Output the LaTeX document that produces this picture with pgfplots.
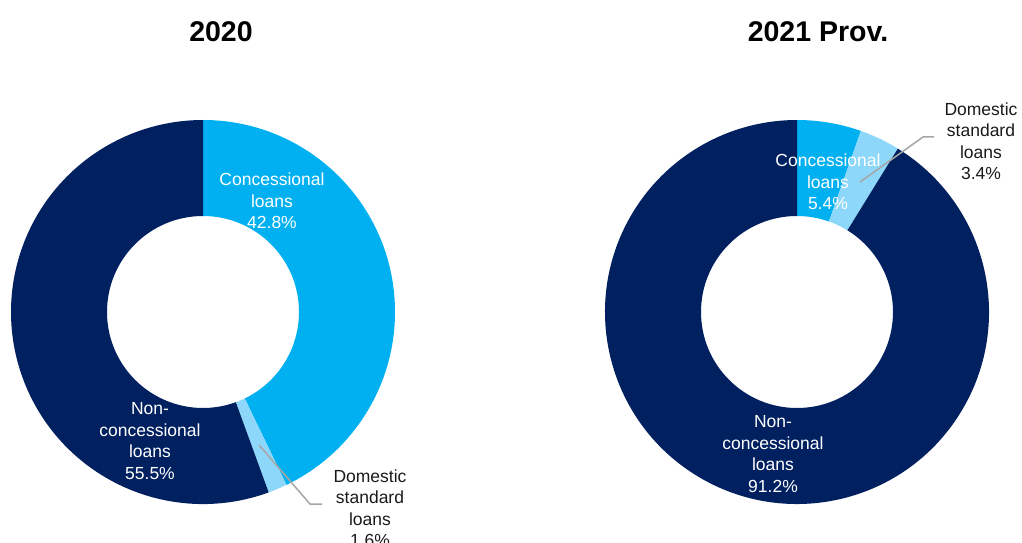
\documentclass[border=0pt]{standalone}
\usepackage{pgfplots}
\usepackage{pgfplotstable}
\pgfplotsset{compat=1.18}
\usepackage{fontspec}
\setmainfont{Liberation Sans}

\definecolor{slice0}{HTML}{00B0F0}% concessional
\definecolor{slice1}{HTML}{8DD8FA}% domestic standard
\definecolor{slice2}{HTML}{002060}% non-concessional
\definecolor{leader}{HTML}{A6A6A6}
\definecolor{labeltext}{HTML}{1A1A1A}

\tikzset{
  lbl/.style={align=center, font=\fontsize{17.5}{21.5}\selectfont, inner sep=0pt},
  ttl/.style={font=\fontsize{28.5}{34}\selectfont\bfseries, inner sep=0pt},
}

% shares of loans, in percent, clockwise from 12 o'clock
\pgfplotstableread{
share
42.8
1.6
55.5
}\sharesA
\pgfplotstableread{
share
5.4
3.4
91.2
}\sharesB

\def\Rout{192}
\def\Rin{96}

% \donut{table}{centre x}{centre y}
\newcommand{\donut}[3]{%
  \pgfplotstablegetrowsof{#1}%
  \pgfmathtruncatemacro\lastrow{\pgfplotsretval-1}%
  \gdef\sumshare{0}%
  \foreach \i in {0,...,\lastrow}{%
    \pgfplotstablegetelem{\i}{share}\of{#1}%
    \pgfmathsetmacro\tmpsum{\sumshare+\pgfplotsretval}%
    \xdef\sumshare{\tmpsum}%
  }%
  \gdef\angA{90}%
  \foreach \i in {0,...,\lastrow}{%
    \pgfplotstablegetelem{\i}{share}\of{#1}%
    \pgfmathsetmacro\angB{\angA-(\pgfplotsretval/\sumshare)*360}%
    \edef\donutwedge{\noexpand\fill[slice\i]
      (axis cs:{#2+\Rout*cos(\angA)},{#3+\Rout*sin(\angA)})
      arc[start angle=\angA, end angle=\angB, radius=\Rout pt]
      -- (axis cs:{#2+\Rin*cos(\angB)},{#3+\Rin*sin(\angB)})
      arc[start angle=\angB, end angle=\angA, radius=\Rin pt] -- cycle;}%
    \donutwedge
    \xdef\angA{\angB}%
  }%
}

\begin{document}
\begin{tikzpicture}
\path[use as bounding box] (0,0) rectangle (1022pt,542pt);
\begin{axis}[
  at={(0pt,0pt)}, anchor=south west,
  x=1pt, y=1pt,
  xmin=0, xmax=1022, ymin=0, ymax=542,
  hide axis, clip=false,
]
\donut{\sharesA}{203}{230}
\donut{\sharesB}{797}{230}

% leader lines for the small slices
\addplot[leader, line width=1.5pt, no marks] coordinates {(259,97) (310,38) (322,38)};
\addplot[leader, line width=1.5pt, no marks] coordinates {(860,360) (923,405) (934,405)};

% titles
\node[ttl] at (221,510) {2020};
\node[ttl] at (818,510) {2021 Prov.};

% slice labels, 2020
\node[lbl, text=white] at (272,341) {Concessional\\loans\\42.8\%};
\node[lbl, text=white] at (150,101) {Non-\\concessional\\loans\\55.5\%};
\node[lbl, text=labeltext] at (370,34) {Domestic\\standard\\loans\\1.6\%};

% slice labels, 2021
\node[lbl, text=white] at (828,360) {Concessional\\loans\\5.4\%};
\node[lbl, text=white] at (773,88) {Non-\\concessional\\loans\\91.2\%};
\node[lbl, text=labeltext] at (981,401) {Domestic\\standard\\loans\\3.4\%};
\end{axis}
\end{tikzpicture}
\end{document}
